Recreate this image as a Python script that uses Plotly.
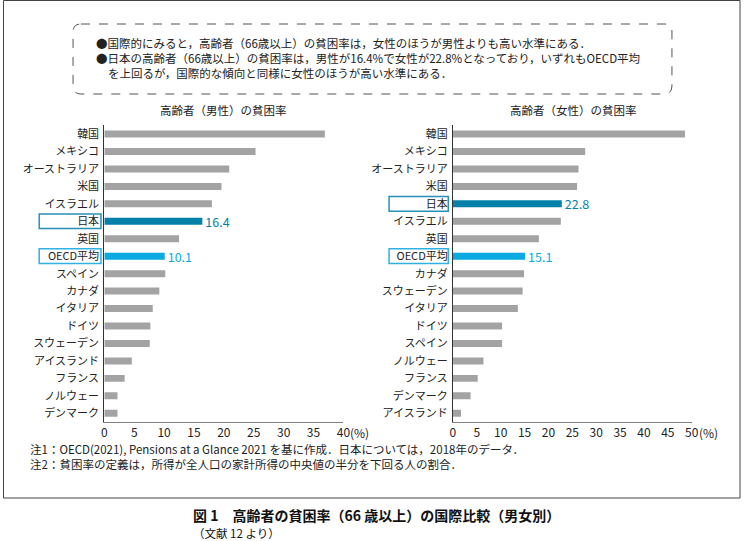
import plotly.graph_objects as go

# data
countries_m = ["韓国", "メキシコ", "オーストラリア", "米国", "イスラエル", "日本", "英国", "OECD平均",
               "スペイン", "カナダ", "イタリア", "ドイツ", "スウェーデン", "アイスランド", "フランス",
               "ノルウェー", "デンマーク"]
rates_m = [36.9, 25.3, 20.9, 19.6, 18.0, 16.4, 12.5, 10.1, 10.2, 9.2, 8.1, 7.7, 7.6, 4.6, 3.4, 2.2, 2.2]

countries_f = ["韓国", "メキシコ", "オーストラリア", "米国", "日本", "イスラエル", "英国", "OECD平均",
               "カナダ", "スウェーデン", "イタリア", "ドイツ", "スペイン", "ノルウェー", "フランス",
               "デンマーク", "アイスランド"]
rates_f = [48.6, 27.7, 26.3, 26.0, 22.8, 22.6, 18.0, 15.1, 14.9, 14.6, 13.6, 10.3, 10.3, 6.4, 5.2, 3.7, 1.7]

ticks_m = [0, 5, 10, 15, 20, 25, 30, 35, 40]
ticks_f = [0, 5, 10, 15, 20, 25, 30, 35, 40, 45, 50]

W, H = 749, 541
FONT = "Noto Sans CJK JP"
GRAY = "#a3a3a3"
JP_COL = "#0581a9"
OECD_COL = "#0aa9e1"
JP_BOX = "#2a8fb6"
OECD_BOX = "#30b1e6"


def px(x):
    return x / W


def py(y):
    return 1 - y / H


def bar_colors(names):
    return [JP_COL if n == "日本" else OECD_COL if n == "OECD平均" else GRAY for n in names]


def bar_text(names, vals):
    return [f"{v:.1f}" if n in ("日本", "OECD平均") else "" for n, v in zip(names, vals)]


fig = go.Figure()
fig.add_trace(go.Bar(
    x=rates_m, y=countries_m, orientation="h", width=0.4,
    marker=dict(color=bar_colors(countries_m), line_width=0),
    text=bar_text(countries_m, rates_m), textposition="outside", constraintext="none",
    textfont=dict(size=12.5, color=bar_colors(countries_m)),
    cliponaxis=False, xaxis="x", yaxis="y", hoverinfo="skip",
))
fig.add_trace(go.Bar(
    x=rates_f, y=countries_f, orientation="h", width=0.4,
    marker=dict(color=bar_colors(countries_f), line_width=0),
    text=bar_text(countries_f, rates_f), textposition="outside", constraintext="none",
    textfont=dict(size=12.5, color=bar_colors(countries_f)),
    cliponaxis=False, xaxis="x2", yaxis="y2", hoverinfo="skip",
))

ydom = [py(422), py(125.3)]
xaxis_common = dict(showgrid=False, zeroline=False, showline=True, linecolor="#808080", linewidth=1,
                    ticks="", tickfont=dict(size=12, color="#222"), fixedrange=True)
yaxis_common = dict(showgrid=False, zeroline=False, showline=True, linecolor="#333", linewidth=1,
                    ticks="", tickfont=dict(size=11, color="#222"), autorange="reversed",
                    ticklabelstandoff=2, fixedrange=True)

fig.update_layout(
    width=W, height=H, autosize=False,
    margin=dict(l=0, r=0, t=0, b=0),
    paper_bgcolor="white", plot_bgcolor="white",
    font=dict(family=FONT, color="#222"),
    showlegend=False,
    xaxis=dict(domain=[px(102.7), px(345)], range=[0, 40], tickvals=ticks_m, anchor="y", **xaxis_common),
    yaxis=dict(domain=ydom, anchor="x", **yaxis_common),
    xaxis2=dict(domain=[px(456), px(698)], range=[0, 50], tickvals=ticks_f, anchor="y2", **xaxis_common),
    yaxis2=dict(domain=ydom, anchor="x2", **yaxis_common),
)

# boxes round the highlighted category labels
for yref, names, x0, x1 in (("y", countries_m, 36.7, 99.3), ("y2", countries_f, 391.3, 451.3)):
    for name, col in (("日本", JP_BOX), ("OECD平均", OECD_BOX)):
        i = names.index(name)
        fig.add_shape(type="rect", xref="paper", yref=yref, x0=px(x0), x1=px(x1),
                      y0=i - 0.42, y1=i + 0.42, line=dict(color=col, width=1.5))

# "(%)" after the last tick
for xref, last in (("x", 40), ("x2", 50)):
    fig.add_annotation(xref=xref, yref="paper", x=last, y=py(432), text="(%)", showarrow=False,
                       xanchor="left", yanchor="middle", xshift=5, font=dict(size=12, color="#222"))

# panel titles
for xc, t in ((223.5, "高齢者（男性）の貧困率"), (578, "高齢者（女性）の貧困率")):
    fig.add_annotation(xref="paper", yref="paper", x=px(xc), y=py(110), text=t, showarrow=False,
                       xanchor="center", yanchor="middle", font=dict(size=11.5))

# outer frame
fig.add_shape(type="rect", xref="paper", yref="paper", x0=px(0.5), x1=px(747), y0=py(498), y1=py(0.5),
              line=dict(color="#444", width=1), layer="below")

# dashed rounded box
L, T, R, B, rad = 71, 24, 678, 94, 8
path = (f"M {px(L + rad)},{py(T)} L {px(R - rad)},{py(T)} Q {px(R)},{py(T)} {px(R)},{py(T + rad)} "
        f"L {px(R)},{py(B - rad)} Q {px(R)},{py(B)} {px(R - rad)},{py(B)} "
        f"L {px(L + rad)},{py(B)} Q {px(L)},{py(B)} {px(L)},{py(B - rad)} "
        f"L {px(L)},{py(T + rad)} Q {px(L)},{py(T)} {px(L + rad)},{py(T)} Z")
fig.add_shape(type="path", xref="paper", yref="paper", path=path,
              line=dict(color="#555", width=1, dash="dash"))

header = [
    (92, 43, "●国際的にみると，高齢者（66歳以上）の貧困率は，女性のほうが男性よりも高い水準にある．"),
    (92, 58, "●日本の高齢者（66歳以上）の貧困率は，男性が16.4%で女性が22.8%となっており，いずれもOECD平均"),
    (104, 73, "を上回るが，国際的な傾向と同様に女性のほうが高い水準にある．"),
]
for x, y, t in header:
    fig.add_annotation(xref="paper", yref="paper", x=px(x), y=py(y), text=t, showarrow=False,
                       xanchor="left", yanchor="middle", font=dict(size=11.5))

# both notes in one block so the lines keep their spacing
notes = [
    "注1：OECD(2021), Pensions at a Glance 2021 を基に作成．日本については，2018年のデータ．",
    "注2：貧困率の定義は，所得が全人口の家計所得の中央値の半分を下回る人の割合．",
]
fig.add_annotation(xref="paper", yref="paper", x=px(25), y=py(456.5), text="<br>".join(notes),
                   showarrow=False, xanchor="left", yanchor="middle", align="left",
                   font=dict(size=11.5))

fig.add_annotation(xref="paper", yref="paper", x=px(191), y=py(515),
                   text="<b>図 1　高齢者の貧困率（66 歳以上）の国際比較（男女別）</b>", showarrow=False,
                   xanchor="left", yanchor="middle", font=dict(size=14, color="#111"))
fig.add_annotation(xref="paper", yref="paper", x=px(191), y=py(533), text="（文献 12 より）",
                   showarrow=False, xanchor="left", yanchor="middle", font=dict(size=11.5, color="#111"))

fig.write_html("out.html", config={"displayModeBar": False},
               post_script="document.body.style.margin='0';document.body.style.overflow='hidden';")
